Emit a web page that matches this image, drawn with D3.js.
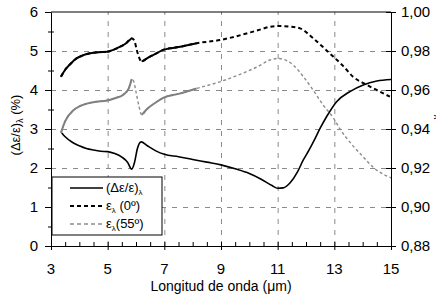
<!DOCTYPE html>
<html>
<head>
<meta charset="utf-8">
<script src="https://cdn.jsdelivr.net/npm/d3@7"></script>
<style>
  body { margin: 0; background: #fff; }
  svg { display: block; font-family: "Liberation Sans", Arial, sans-serif; }
  .grid line { stroke: #8a8a8a; stroke-dasharray: 5,6; }
  .grid path { display: none; }
  .axis path, .axis line { stroke: #000; }
</style>
</head>
<body>
<div id="chart"></div>
<script>
// Variação relativa (Δε/ε)λ em %, eixo da esquerda
const deltaX = [3.38, 3.5, 3.75, 4.0, 4.25, 4.5, 4.75, 5.0, 5.25, 5.5, 5.7, 5.85, 5.95, 6.05, 6.18, 6.4, 6.7, 7.0, 7.5, 8.0, 8.5, 9.0, 9.5, 10.0, 10.4, 10.8, 11.0, 11.2, 11.44, 11.7, 11.9, 12.1, 12.26, 12.5, 12.73, 13.08, 13.55, 14.02, 14.5, 15.0]
const deltaY = [2.90, 2.80, 2.66, 2.57, 2.50, 2.46, 2.43, 2.42, 2.37, 2.28, 2.15, 1.97, 2.15, 2.50, 2.67, 2.57, 2.44, 2.35, 2.29, 2.22, 2.15, 2.08, 1.98, 1.86, 1.72, 1.55, 1.48, 1.49, 1.62, 1.90, 2.20, 2.45, 2.67, 3.02, 3.32, 3.70, 3.96, 4.13, 4.23, 4.27]

// Emissividade a 0º, eixo da direita
const e0X = [3.35, 3.5, 3.7, 3.9, 4.1, 4.38, 4.7, 4.97, 5.2, 5.44, 5.65, 5.85, 5.95, 6.02, 6.1, 6.2, 6.4, 6.7, 6.96, 7.5, 8.14, 8.96, 9.5, 9.9, 10.3, 10.73, 11.08, 11.4, 11.79, 12.25, 12.6, 12.97, 13.3, 13.66, 14.1, 14.6, 14.96]
const e0Y = [0.9668, 0.9704, 0.9736, 0.9762, 0.9776, 0.9788, 0.9794, 0.9796, 0.9806, 0.9822, 0.9840, 0.9866, 0.9850, 0.9810, 0.9770, 0.9746, 0.9764, 0.9786, 0.9806, 0.9820, 0.9840, 0.9856, 0.9874, 0.9890, 0.9906, 0.9924, 0.9928, 0.9926, 0.9916, 0.9866, 0.9820, 0.9770, 0.9725, 0.9668, 0.9630, 0.9592, 0.9566]

// Emissividade a 55º, eixo da direita
const e55X = [3.35, 3.5, 3.79, 4.0, 4.26, 4.6, 4.97, 5.25, 5.55, 5.75, 5.85, 5.92, 6.0, 6.1, 6.2, 6.4, 6.7, 6.96, 7.5, 8.14, 8.96, 9.9, 10.3, 10.73, 11.02, 11.3, 11.55, 11.9, 12.25, 12.6, 12.97, 13.2, 13.6, 14.0, 14.4, 15.0]
const e55Y = [0.9380, 0.9440, 0.9496, 0.9516, 0.9530, 0.9540, 0.9546, 0.9558, 0.9576, 0.9610, 0.9656, 0.9644, 0.9590, 0.9520, 0.9472, 0.9504, 0.9536, 0.9560, 0.9580, 0.9608, 0.9642, 0.9694, 0.9720, 0.9754, 0.9762, 0.9752, 0.9728, 0.9670, 0.9600, 0.9524, 0.9456, 0.9400, 0.9324, 0.9260, 0.9200, 0.9150]

const xTicks = [3, 5, 7, 9, 11, 13, 15]
const leftTicks = [0, 1, 2, 3, 4, 5, 6]
const rightTicks = [0.88, 0.90, 0.92, 0.94, 0.96, 0.98, 1.00]

const W = 436, H = 298
const margin = { top: 12, right: 45, bottom: 52, left: 51 }
const width = W - margin.left - margin.right,
    height = H - margin.top - margin.bottom

const svg = d3.select("#chart").append("svg")
    .attr("width", W)
    .attr("height", H)

const g = svg.append("g")
    .attr("transform", "translate(" + margin.left + "," + margin.top + ")")

const x = d3.scaleLinear().domain([3, 15]).range([0, width])
const y = d3.scaleLinear().domain([0, 6]).range([height, 0])
const y2 = d3.scaleLinear().domain([0.88, 1.00]).range([height, 0])

// Linhas de grade tracejadas
g.append("g")
    .attr("class", "grid")
    .attr("transform", "translate(0," + height + ")")
    .call(d3.axisBottom(x).tickValues(xTicks.slice(1, -1)).tickSize(-height).tickFormat(""))
g.append("g")
    .attr("class", "grid")
    .call(d3.axisLeft(y).tickValues(leftTicks.slice(1, -1)).tickSize(-width).tickFormat(""))

// Curvas
const deltaData = deltaX.map((d, i) => ({ x: d, y: deltaY[i] }))
const e0Data = e0X.map((d, i) => ({ x: d, y: e0Y[i] }))
const e55Data = e55X.map((d, i) => ({ x: d, y: e55Y[i] }))

const lineLeft = d3.line().x(d => x(d.x)).y(d => y(d.y)).curve(d3.curveMonotoneX)
const lineRight = d3.line().x(d => x(d.x)).y(d => y2(d.y)).curve(d3.curveMonotoneX)

// trechos onde o Excel desenha tão denso que parece contínuo
const dense = d => d.x <= 5.86 || (d.x >= 6.18 && d.x <= 8.2)

g.append("path").datum(e55Data)
    .attr("fill", "none").attr("stroke", "#8c8c8c").attr("stroke-width", 1.4)
    .attr("stroke-dasharray", "3,2.5")
    .attr("d", lineRight)
g.append("path").datum(e55Data)
    .attr("fill", "none").attr("stroke", "#808080").attr("stroke-width", 2)
    .attr("d", lineRight.defined(dense))

g.append("path").datum(e0Data)
    .attr("fill", "none").attr("stroke", "#000").attr("stroke-width", 2)
    .attr("stroke-dasharray", "4,3")
    .attr("d", lineRight.defined(() => true))
g.append("path").datum(e0Data)
    .attr("fill", "none").attr("stroke", "#000").attr("stroke-width", 2)
    .attr("d", lineRight.defined(dense))

g.append("path").datum(deltaData)
    .attr("fill", "none").attr("stroke", "#000").attr("stroke-width", 1.6)
    .attr("d", lineLeft)

// Moldura superior
g.append("line").attr("x1", 0).attr("x2", width).attr("y1", 0).attr("y2", 0).attr("stroke", "#000")

// Eixos
const tickFont = "15px"
const ax = g.append("g").attr("class", "axis")
    .attr("transform", "translate(0," + height + ")")
    .call(d3.axisBottom(x).tickValues(d3.range(3, 15.01, 0.5)).tickSize(0).tickFormat(""))
ax.selectAll(".tick line").attr("y1", -4).attr("y2", d => xTicks.includes(d) ? 4 : 0)
g.append("g").attr("transform", "translate(0," + height + ")")
    .selectAll("text").data(xTicks).join("text")
    .attr("x", d => x(d)).attr("y", 28)
    .attr("text-anchor", "middle").attr("font-size", tickFont)
    .text(d => d)

const ay = g.append("g").attr("class", "axis")
    .call(d3.axisLeft(y).tickValues(d3.range(0, 6.01, 0.5)).tickSize(0).tickFormat(""))
ay.selectAll(".tick line")
    .attr("x1", d => Number.isInteger(d) ? -6 : -3).attr("x2", d => Number.isInteger(d) ? 0 : 3)
g.append("g").selectAll("text").data(leftTicks).join("text")
    .attr("x", -13).attr("y", d => y(d)).attr("dy", "0.36em")
    .attr("text-anchor", "end").attr("font-size", tickFont)
    .text(d => d)

const ay2 = g.append("g").attr("class", "axis")
    .attr("transform", "translate(" + width + ",0)")
    .call(d3.axisRight(y2).tickValues(rightTicks).tickSize(0).tickFormat(""))
ay2.selectAll(".tick line").attr("x1", -5).attr("x2", 5)
g.append("g").attr("transform", "translate(" + width + ",0)")
    .selectAll("text").data(rightTicks).join("text")
    .attr("x", 10).attr("y", d => y2(d)).attr("dy", "0.36em")
    .attr("font-size", tickFont)
    .text(d => d.toFixed(2).replace(".", ","))

// Títulos dos eixos
svg.append("text")
    .attr("x", margin.left + width / 2).attr("y", 291)
    .attr("text-anchor", "middle").attr("font-size", "14px")
    .text("Longitud de onda (μm)")

const yl = svg.append("text")
    .attr("transform", "translate(20,125) rotate(-90)")
    .attr("text-anchor", "middle").attr("font-size", "13px")
yl.append("tspan").text("(Δε/ε)")
yl.append("tspan").attr("font-size", "9px").attr("dy", 3).text("λ")
yl.append("tspan").attr("dy", -3).text(" (%)")

const yr = svg.append("text")
    .attr("transform", "translate(437,114) rotate(90)")
    .attr("text-anchor", "middle").attr("font-size", "13px")
yr.append("tspan").text("ε")
yr.append("tspan").attr("font-size", "9px").attr("dy", 3).text("λ")

// Legenda
const legend = svg.append("g").attr("transform", "translate(52,177)")
legend.append("rect").attr("width", 110).attr("height", 58)
    .attr("fill", "#fff").attr("stroke", "#000")

const legendItems = [
    { label: "(Δε/ε)", sub: "λ", tail: "", color: "#000", dash: null, w: 1.6 },
    { label: "ε", sub: "λ", tail: " (0º)", color: "#000", dash: "4,3", w: 2 },
    { label: "ε", sub: "λ", tail: "(55º)", color: "#8c8c8c", dash: "4,3", w: 1.6 }
]
legendItems.forEach((d, i) => {
    const ly = 11 + i * 18
    legend.append("line")
        .attr("x1", 18).attr("x2", 51).attr("y1", ly).attr("y2", ly)
        .attr("stroke", d.color).attr("stroke-width", d.w)
        .attr("stroke-dasharray", d.dash)
    const t = legend.append("text").attr("x", 54).attr("y", ly + 4).attr("font-size", "13px")
    t.append("tspan").text(d.label)
    t.append("tspan").attr("font-size", "8px").attr("dy", 3).text(d.sub)
    t.append("tspan").attr("dy", -3).text(d.tail)
})
</script>
</body>
</html>
